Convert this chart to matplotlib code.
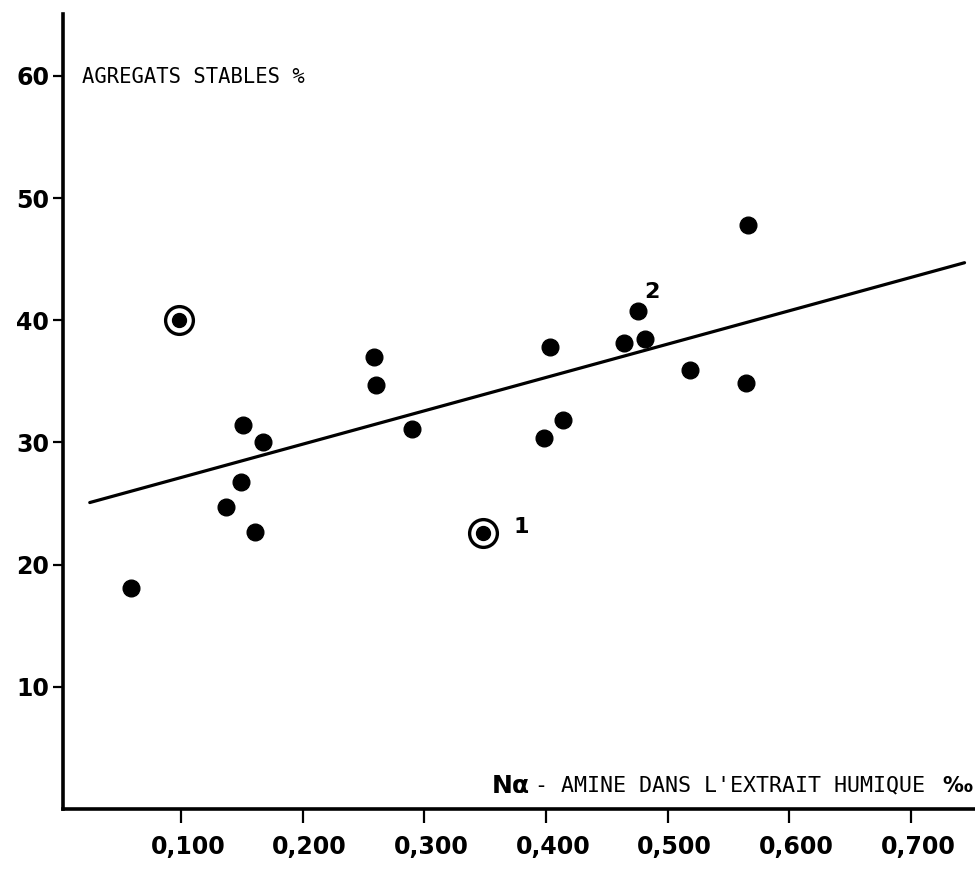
import numpy as np
import matplotlib
matplotlib.use('Agg')
import matplotlib.pyplot as plt
import matplotlib.transforms as mtransforms

###############################################################################
# Plot style
###############################################################################
plt.rcParams['axes.facecolor'] = '#FFFFFF'
plt.rcParams['figure.facecolor'] = '#FFFFFF'
plt.rcParams['axes.edgecolor'] = '#000000'
plt.rcParams['xtick.color'] = '#000000'
plt.rcParams['ytick.color'] = '#000000'
plt.rcParams['font.family'] = 'DejaVu Sans'

#-----------------------------------------------------------------------------
# DATA
#-----------------------------------------------------------------------------
# N alpha-amine in the humic extract (per mille) vs stable aggregates (%)
amine_n = [0.059, 0.137, 0.149, 0.151, 0.167, 0.161, 0.259, 0.260, 0.290,
           0.398, 0.414, 0.403, 0.464, 0.481, 0.476, 0.518, 0.566, 0.564]
agregats = [18.1, 24.7, 26.8, 31.4, 30.0, 22.7, 37.0, 34.7, 31.1,
            30.4, 31.8, 37.8, 38.1, 38.5, 40.8, 35.9, 47.8, 34.9]

# circled (outlying) samples
circled_n = [0.098, 0.348]
circled_agr = [40.0, 22.6]

# labelled samples: label, x, y
point_labels = ['1', '2']
point_lab_x = [0.348, 0.476]
point_lab_y = [22.6, 40.8]

# regression line
reg_intercept = 24.4
reg_slope = 27.3
reg_xrange = [0.025, 0.744]

xticks = [0.1, 0.2, 0.3, 0.4, 0.5, 0.6, 0.7]
xticklabels = ['0,100', '0,200', '0,300', '0,400', '0,500', '0,600', '0,700']
yticks = [10, 20, 30, 40, 50, 60]

#-----------------------------------------------------------------------------
# FIGURE
#-----------------------------------------------------------------------------
fig = plt.figure(figsize=(9.75, 8.69), dpi=100)
ax = fig.add_axes([0.0646, 0.069, 0.9354, 0.9148])

ax.set_xlim(0.003, 0.7526)
ax.set_ylim(0, 65.06)

# regression line
lx = np.array(reg_xrange)
ax.plot(lx, reg_intercept + reg_slope * lx, color='black', lw=2.3,
        solid_capstyle='round', zorder=2)

# points
ax.plot(amine_n, agregats, 'o', color='black', markersize=12, zorder=3)
ax.plot(circled_n, circled_agr, 'o', color='black', markersize=10, zorder=3)
ax.plot(circled_n, circled_agr, 'o', markerfacecolor='none',
        markeredgecolor='black', markersize=20, markeredgewidth=2.4, zorder=3)

# number labels next to two samples
offsets = [(28, 4), (10, 13)]
for lab, px, py, off in zip(point_labels, point_lab_x, point_lab_y, offsets):
    ax.annotate(lab, (px, py), xytext=off, textcoords='offset points',
                ha='center', va='center', fontsize=16, fontweight='bold')

# spines
ax.spines['top'].set_visible(False)
ax.spines['right'].set_visible(False)
ax.spines['left'].set_linewidth(2.6)
ax.spines['bottom'].set_linewidth(2.6)

# ticks
ax.set_xticks(xticks)
ax.set_xticklabels(xticklabels)
ax.set_yticks(yticks)
ax.set_yticklabels([str(v) for v in yticks])
ax.tick_params(axis='x', direction='out', length=10, width=1.6, pad=9,
               labelsize=17)
ax.tick_params(axis='y', direction='out', length=7, width=1.6, pad=3,
               labelsize=17)
for lab in ax.get_xticklabels() + ax.get_yticklabels():
    lab.set_fontweight('bold')
shift = mtransforms.ScaledTranslation(7 / 100, 0, fig.dpi_scale_trans)
for lab in ax.get_xticklabels():
    lab.set_transform(lab.get_transform() + shift)

# axis titles written inside the frame (typewriter style)
mono = ['DejaVu Sans Mono', 'DejaVu Sans']
ax.text(0.0187, 59.9, 'AGREGATS STABLES %', fontsize=14.8,
        family=mono, ha='left', va='center')
ax.text(0.387, 1.9, 'N\u03b1', fontsize=18, fontweight='bold',
        ha='right', va='center')
ax.text(0.391, 1.9, "- AMINE DANS L'EXTRAIT HUMIQUE", fontsize=15.6,
        family=mono, ha='left', va='center')
ax.text(0.7502, 1.9, '\u2030', fontsize=15, fontweight='bold',
        ha='right', va='center')

plt.savefig('out.png', dpi=100)
